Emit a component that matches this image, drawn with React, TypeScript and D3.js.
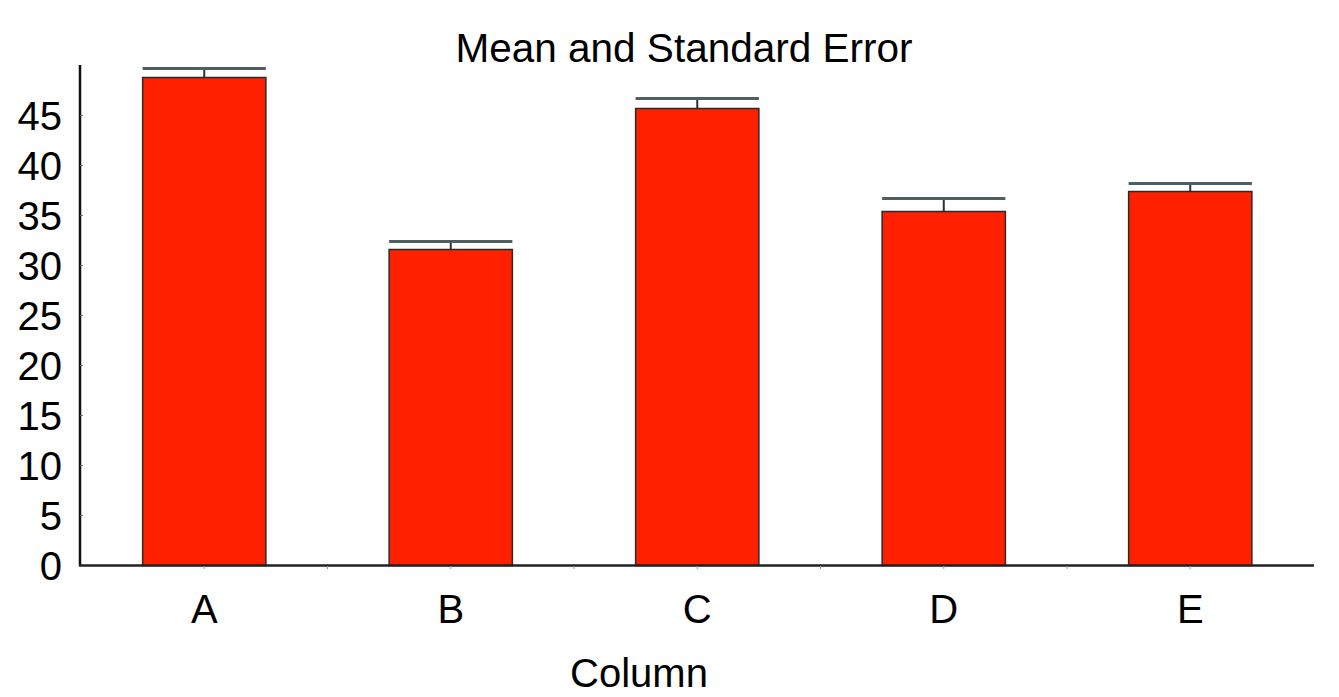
import React from "react";
import * as d3 from "d3";

const categories = ["A", "B", "C", "D", "E"];
const means = [48.8, 31.6, 45.7, 35.4, 37.4];
const stdErrors = [0.9, 0.8, 1.0, 1.3, 0.8];
const yTicks = [0, 5, 10, 15, 20, 25, 30, 35, 40, 45];
const title = "Mean and Standard Error";
const xLabel = "Column";

const W = 1339;
const H = 697;
const FONT = "'Liberation Sans', Arial, sans-serif";

export default function App() {
  const x = d3.scaleBand<string>().domain(categories).range([81, 1313.5]).paddingInner(0.5).paddingOuter(0.25);
  const y = d3.scaleLinear().domain([0, 50]).range([565.5, 65.5]);
  const bw = x.bandwidth();

  const boundaries: number[] = [];
  categories.forEach((c, i) => {
    if (i > 0) boundaries.push((x(categories[i - 1])! + bw + x(c)!) / 2);
  });

  return (
    <svg width={W} height={H} style={{ position: "fixed", left: 0, top: 0, background: "#fff" }} fontFamily={FONT}>
      <rect x={0} y={0} width={W} height={H} fill="#fff" />
      <text x={684} y={62} textAnchor="middle" fontSize={40.5} fill="#000">{title}</text>

      {/* bars */}
      {categories.map((c, i) => {
        const x0 = x(c)!;
        const cx = x0 + bw / 2;
        const top = y(means[i]);
        const errTop = y(means[i] + stdErrors[i]);
        return (
          <g key={c}>
            <line x1={cx} x2={cx} y1={top} y2={errTop} stroke="#2a3434" strokeWidth={2} />
            <line x1={x0} x2={x0 + bw} y1={errTop} y2={errTop} stroke="#4f5f5f" strokeWidth={3} />
            <rect x={x0} y={top} width={bw} height={y(0) - top} fill="#ff2000" stroke="#2a2a2a" strokeWidth={1.5} />
          </g>
        );
      })}

      {/* y axis */}
      <line x1={80} x2={80} y1={65} y2={566} stroke="#111" strokeWidth={2.5} />
      {yTicks.map((t) => (
        <g key={t}>
          <line x1={80} x2={83} y1={y(t)} y2={y(t)} stroke="#667" strokeWidth={1} />
          <text x={62} y={y(t) + 14.5} textAnchor="end" fontSize={40} fill="#000">{t}</text>
        </g>
      ))}

      {/* x axis */}
      <line x1={79} x2={1314} y1={565.5} y2={565.5} stroke="#222" strokeWidth={2.5} />
      {categories.map((c) => (
        <g key={c}>
          <line x1={x(c)! + bw / 2} x2={x(c)! + bw / 2} y1={566} y2={569} stroke="#8a9a9a" strokeWidth={1} />
          <text x={x(c)! + bw / 2} y={623} textAnchor="middle" fontSize={40} fill="#000">{c}</text>
        </g>
      ))}
      {boundaries.map((b, i) => (
        <line key={i} x1={b} x2={b} y1={566} y2={569} stroke="#8a9a9a" strokeWidth={1} />
      ))}
      <text x={639} y={687} textAnchor="middle" fontSize={40} fill="#000">{xLabel}</text>
    </svg>
  );
}
